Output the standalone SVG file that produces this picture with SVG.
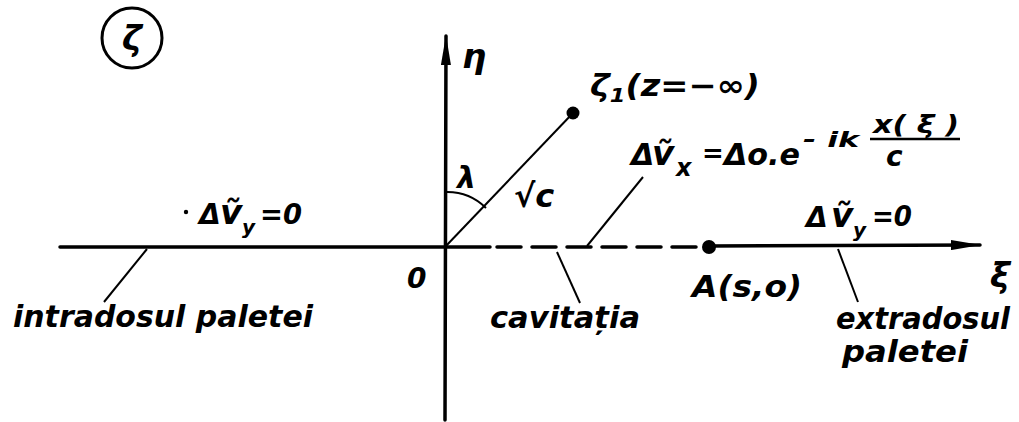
<svg xmlns="http://www.w3.org/2000/svg" width="1019" height="422" viewBox="0 0 1019 422">
<defs>
<style>
.t{font-family:"DejaVu Sans","Liberation Sans",sans-serif;font-style:italic;font-weight:bold;fill:#000;}
.ax{stroke:#000;stroke-width:3.5;fill:none;stroke-linecap:round;}
.ld{stroke:#000;stroke-width:2;fill:none;}
</style>
<marker id="ah" viewBox="0 0 30 10" refX="29" refY="5" markerWidth="30" markerHeight="10" markerUnits="userSpaceOnUse" orient="auto">
<path d="M0,0 L30,5 L0,10 Z" fill="#000"/>
</marker>
</defs>
<rect width="1019" height="422" fill="#fff"/>
<g id="connectors">
<line class="ax" x1="60" y1="247" x2="490" y2="247"/>
<line class="ax" x1="497" y1="247" x2="705" y2="247" stroke-dasharray="24,11" stroke-linecap="butt"/>
<line class="ax" x1="710" y1="246" x2="980" y2="245" marker-end="url(#ah)"/>
<line class="ax" x1="445" y1="420" x2="446" y2="36" marker-end="url(#ah)"/>
<line class="ld" x1="445" y1="247" x2="573" y2="113"/>
<path class="ld" d="M446,192 A55,55 0 0 1 486,208"/>
<line class="ld" x1="147" y1="249" x2="104" y2="302"/>
<line class="ld" x1="557" y1="252" x2="580" y2="303"/>
<line class="ld" x1="587" y1="246" x2="643" y2="177"/>
<line class="ld" x1="838" y1="249" x2="858" y2="302"/>
</g>
<g id="circle-zeta">
<circle cx="132" cy="38" r="30" fill="none" stroke="#000" stroke-width="3"/>
<text class="t" x="132" y="50" font-size="34" text-anchor="middle">ζ</text>
</g>
<g id="eta-label"><text class="t" x="462" y="68" font-size="34">η</text></g>
<g id="zeta1">
<circle cx="573" cy="113" r="6.5" fill="#000"/>
<text class="t" x="590" y="96" font-size="30" textLength="170" lengthAdjust="spacingAndGlyphs">ζ<tspan font-size="20" dy="6">1</tspan><tspan dy="-6">(z=−∞)</tspan></text>
</g>
<g id="lambda"><text class="t" x="457" y="188" font-size="30">λ</text></g>
<g id="sqrtc"><text class="t" x="514" y="207" font-size="32">√c</text></g>
<g id="origin"><text class="t" x="407" y="288" font-size="28">0</text></g>
<g id="formula-x">
<text class="t" x="631" y="165" font-size="30">Δ</text>
<text class="t" x="652" y="165" font-size="34">ṽ</text>
<text class="t" x="676" y="176" font-size="24">x</text>
<text class="t" x="702" y="162" font-size="26">=</text>
<text class="t" x="724" y="165" font-size="30" textLength="76" lengthAdjust="spacingAndGlyphs">Δo.e</text>
<text class="t" x="803" y="147" font-size="22" textLength="56" lengthAdjust="spacingAndGlyphs">- ik</text>
<line x1="870" y1="139" x2="960" y2="139" stroke="#000" stroke-width="2.5"/>
<text class="t" x="873" y="133" font-size="24" textLength="86" lengthAdjust="spacingAndGlyphs">x( ξ )</text>
<text class="t" x="886" y="166" font-size="28">c</text>
</g>
<g id="vy-left">
<circle cx="186" cy="212" r="2.2" fill="#000"/>
<text class="t" x="199" y="224" font-size="28">Δ</text>
<text class="t" x="220" y="224" font-size="34">ṽ</text>
<text class="t" x="242" y="234" font-size="20">y</text>
<text class="t" x="260" y="224" font-size="28" textLength="42" lengthAdjust="spacingAndGlyphs">=0</text>
</g>
<g id="vy-right">
<text class="t" x="806" y="227" font-size="28">Δ</text>
<text class="t" x="831" y="227" font-size="34">ṽ</text>
<text class="t" x="853" y="237" font-size="20">y</text>
<text class="t" x="872" y="226" font-size="28" textLength="40" lengthAdjust="spacingAndGlyphs">=0</text>
</g>
<g id="pointA">
<circle cx="709" cy="247" r="7" fill="#000"/>
<text class="t" x="692" y="297" font-size="30" textLength="110" lengthAdjust="spacingAndGlyphs">A(s,o)</text>
</g>
<g id="xi-label"><text class="t" x="990" y="287" font-size="34">ξ</text></g>
<g id="intrados"><text class="t" x="13" y="327" font-size="30" textLength="300" lengthAdjust="spacingAndGlyphs">intradosul paletei</text></g>
<g id="cavitatia"><text class="t" x="490" y="328" font-size="30" textLength="150" lengthAdjust="spacingAndGlyphs">cavitația</text></g>
<g id="extrados">
<text class="t" x="836" y="329" font-size="30" textLength="174" lengthAdjust="spacingAndGlyphs">extradosul</text>
<text class="t" x="842" y="362" font-size="30" textLength="126" lengthAdjust="spacingAndGlyphs">paletei</text>
</g>
</svg>
